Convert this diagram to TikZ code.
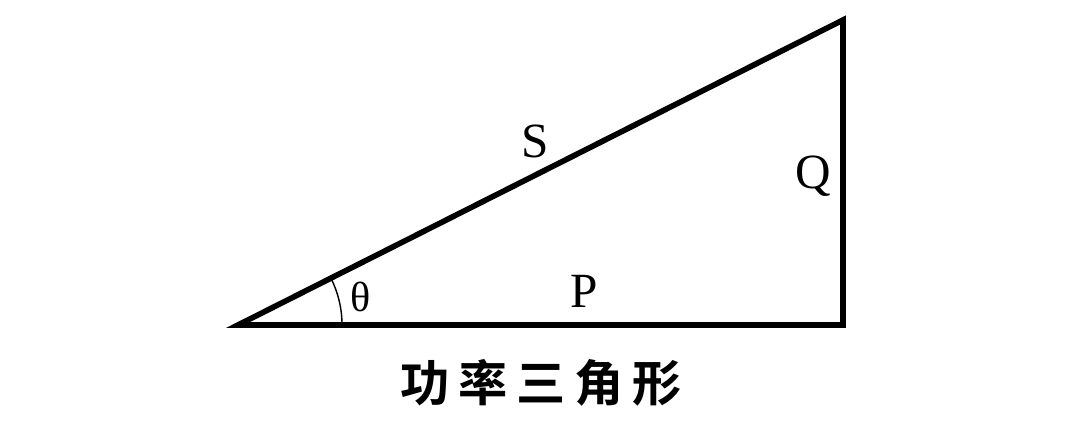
\documentclass[tikz,border=0pt]{standalone}
\usepackage{fontspec}
\setmainfont{Liberation Serif}
\newfontfamily\cjk{Noto Sans CJK SC Bold}
\usepackage{tikz}
\usetikzlibrary{positioning}

\tikzset{
  side/.style={line width=4pt, line join=miter},
  sidelabel/.style={anchor=base, font=\fontsize{35}{40}\selectfont},
}

\begin{document}
\begin{tikzpicture}[x=0.025cm, y=0.025cm]
  \useasboundingbox (0,0) rectangle (1080,422);

  % corners of the triangle
  \coordinate (A) at (238,97);
  \coordinate (B) at (843,97);
  \coordinate (C) at (843,402);

  \draw[side] (A) -- (B) -- (C) -- cycle;

  % angle mark at A
  \draw[line width=1pt] ([xshift=2.6cm]A) arc[start angle=0, end angle=26.8, radius=2.6cm];

  \node[sidelabel] (S) at (535,264) {S};
  \node[sidelabel] (Q) at (813,233) {Q};
  \node[sidelabel] (P) at (584,114) {P};
  \node[anchor=base, font=\fontsize{30}{32}\selectfont] (theta) at (361,110) {θ};

  % caption
  \node[font=\cjk\fontsize{35}{40}\selectfont] (title) at (541,39)
    {功\hspace{0.18em}率\hspace{0.18em}三\hspace{0.18em}角\hspace{0.18em}形};
\end{tikzpicture}
\end{document}
